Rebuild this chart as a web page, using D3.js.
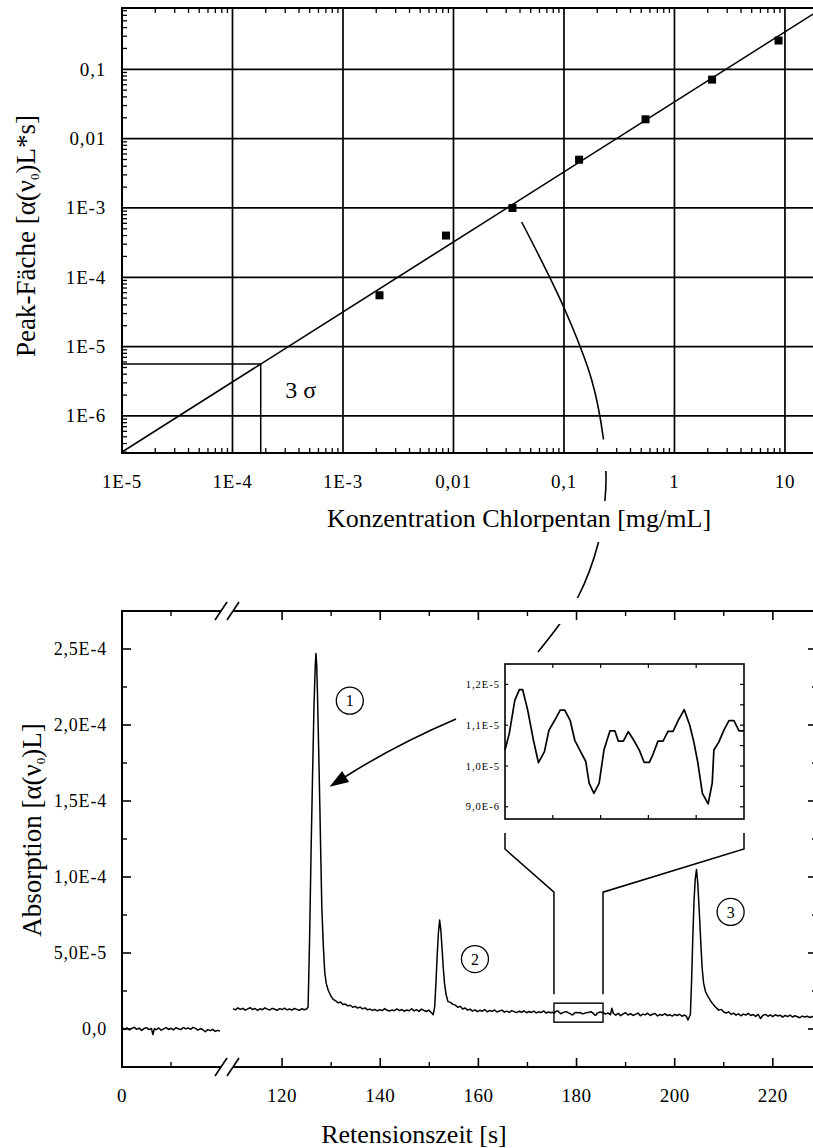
<!DOCTYPE html>
<html>
<head>
<meta charset="utf-8">
<script src="https://cdn.jsdelivr.net/npm/d3@7"></script>
<style>
  body { margin: 0; background: #fff; }
  svg { display: block; }
  text { font-family: "Liberation Serif", "Times New Roman", serif; fill: #000; }
</style>
</head>
<body>
<svg id="chart" width="813" height="1148"></svg>
<script>
// ---------------- calibration data (log-log) ----------------
const concentrations = [0.00214, 0.00855, 0.0342, 0.137, 0.547, 2.19, 8.75];   // mg/mL
const peakAreas      = [5.5e-5, 4.0e-4, 1.0e-3, 4.97e-3, 1.9e-2, 7.1e-2, 2.6e-1];
const fitCoefficient = 0.0339;   // area = a * c^b
const fitExponent    = 1.01;
const lodArea        = 5.6e-6;   // 3 sigma noise level

const concTickValues = [1e-5, 1e-4, 1e-3, 1e-2, 1e-1, 1, 10];
const concTickLabels = ["1E-5", "1E-4", "1E-3", "0,01", "0,1", "1", "10"];
const areaTickValues = [1e-6, 1e-5, 1e-4, 1e-3, 1e-2, 1e-1];
const areaTickLabels = ["1E-6", "1E-5", "1E-4", "1E-3", "0,01", "0,1"];

// ---------------- chromatogram data (absorption in 1E-6) ----------------
const UNIT = 1e-6;
const blankTrace = [
  [0,1.2],[0.5,-0.3],[1,0.8],[1.5,-0.6],[2,0.4],[2.5,1.1],[3,-0.2],[3.5,0.6],[4,-0.9],[4.5,0.3],
  [5,0.9],[5.5,-0.4],[6,0.3],[6.3,-3.6],[6.6,0.2],[7,-0.5],[7.5,0.7],[8,-0.8],[8.5,0.1],[9,0.9],
  [9.5,-0.3],[10,0.5],[10.5,-0.6],[11,0.8],[11.5,0.2],[12,-0.4],[12.5,1.0],[13,0.1],[13.5,0.7],
  [14,-0.2],[14.5,1.1],[15,0.4],[15.5,-0.7],[16,0.3],[16.5,-0.5],[17,-1.8],[17.5,-0.4],[18,-1.1],
  [18.5,-0.3],[19,-1.6],[19.5,-0.9],[20,-1.4]
];
const sampleTrace = [
  [110,13.4],[110.5,12.6],[111,13.9],[111.5,12.9],[112,13.6],[112.5,12.4],[113,13.2],[113.5,14.1],
  [114,12.8],[114.5,13.5],[115,12.2],[115.5,13.3],[116,12.7],[116.5,13.9],[117,13.1],[117.5,12.5],
  [118,13.6],[118.5,13.0],[119,12.3],[119.5,13.4],[120,12.8],[120.5,13.7],[121,12.6],[121.5,13.2],
  [122,12.4],[122.5,13.5],[123,12.9],[123.5,12.3],[124,13.3],[124.5,12.7],[125,13.1],
  // peak 1
  [125.3,14.5],[125.6,58],[125.9,115],[126.2,165],[126.5,212],[126.75,238],[126.9,247],[127.05,240],
  [127.2,222],[127.45,185],[127.7,146],[127.9,112],[128.1,80],[128.4,55],[128.7,37],[129.0,30],
  [129.4,25.5],[129.9,22],[130.4,19.5],[130.9,18.6],[131.4,17.2],[131.9,17.8],[132.4,16.1],
  [132.9,16.4],[133.4,15.2],[133.9,15.6],[134.4,14.3],[134.9,14.9],[135.4,13.8],[135.9,14.4],
  [136.4,13.2],[136.9,13.9],
  [137.4,12.6],[137.9,13.1],[138.4,12.2],[138.9,12.9],[139.4,11.9],[139.9,12.7],[140.4,12.1],
  [140.9,13.4],[141.4,12.3],[141.9,11.8],[142.4,12.6],[142.9,12.0],[143.4,13.2],[143.9,12.1],
  [144.4,12.8],[144.9,11.7],[145.4,12.5],[145.9,12.0],[146.4,13.3],[146.9,11.9],[147.4,12.7],
  [147.9,11.6],[148.4,13.1],[148.9,12.2],[149.4,11.5],[149.9,12.4],[150.4,10.8],[150.8,9.4],
  // peak 2
  [151.1,14.7],[151.35,30],[151.6,48],[151.85,63],[152.1,71.7],[152.35,65],[152.6,53],[152.85,40],
  [153.1,30],[153.4,23],[153.8,18],[154.3,17.5],[154.8,16.2],[155.3,15.7],[155.8,14.3],[156.3,14.9],
  [156.8,13.2],[157.3,13.8],
  [157.8,12.4],[158.3,13.1],[158.8,11.8],[159.3,12.6],[159.8,11.4],[160.3,12.3],[160.8,11.7],
  [161.3,12.8],[161.8,11.3],[162.3,12.2],[162.8,11.6],[163.3,12.5],[163.8,11.2],[164.3,11.9],
  [164.8,12.4],[165.3,11.1],[165.8,11.8],[166.3,10.9],[166.8,12.1],[167.3,11.4],[167.8,10.8],
  [168.3,11.7],[168.8,11.0],[169.3,12.0],[169.8,10.7],[170.3,11.5],[170.8,10.9],[171.3,11.8],
  [171.8,10.6],[172.3,11.3],[172.8,10.8],[173.3,11.9],[173.8,10.5],[174.3,11.2],[174.8,10.7],
  [175.1,11.0],
  // detail window (shown enlarged in the inset)
  [175.40,10.39],[175.58,10.80],[175.81,11.61],[176.00,11.87],[176.14,11.87],[176.35,11.37],
  [176.59,10.63],[176.80,10.08],[177.05,10.35],[177.24,10.88],[177.48,11.12],[177.71,11.37],
  [177.90,11.37],[178.13,11.11],[178.32,10.63],[178.53,10.39],[178.78,10.11],[178.92,9.58],
  [179.12,9.33],[179.34,9.58],[179.54,10.39],[179.79,10.86],[180.00,10.86],[180.14,10.61],
  [180.35,10.61],[180.56,10.84],[180.77,10.65],[181.02,10.39],[181.22,10.09],[181.44,10.09],
  [181.61,10.31],[181.80,10.61],[182.01,10.61],[182.22,10.85],[182.43,10.85],[182.65,11.12],
  [182.90,11.38],[183.13,11.00],[183.30,10.59],[183.46,10.11],[183.66,9.33],[183.90,9.07],
  [184.07,9.58],[184.14,10.39],[184.35,10.59],[184.56,10.88],[184.77,11.11],[184.98,11.11],
  [185.19,10.86],[185.40,10.86],
  [185.9,9.8],[186.4,10.6],[186.9,9.4],[187.2,13.6],[187.5,10.2],[188.0,9.1],[188.5,10.3],
  [189.0,8.8],[189.5,9.9],[190.0,10.7],[190.5,9.2],[191.0,10.1],[191.5,8.9],[192.0,9.6],
  [192.5,10.5],[193.0,8.7],[193.5,9.8],[194.0,9.3],[194.5,10.4],[195.0,8.9],[195.5,9.7],
  [196.0,10.2],[196.5,8.6],[197.0,9.5],[197.5,9.0],[198.0,10.1],[198.5,8.8],[199.0,9.4],
  [199.5,8.5],[200.0,9.6],[200.5,8.9],[201.0,9.7],[201.5,8.4],[202.0,9.2],[202.4,8.3],[202.7,5.9],
  // peak 3
  [203.2,9.5],[203.45,32],[203.7,61],[203.95,85],[204.2,99],[204.45,105],[204.7,96],[204.9,84],
  [205.1,71.7],[205.35,55],[205.6,40],[205.9,30],[206.3,24.5],[206.8,21.3],[207.3,18.6],
  [207.8,16.4],[208.2,14.8],[208.6,13.6],[209.0,12.4],[209.5,12.9],[210.0,11.2],[210.5,10.5],
  [211,11.3],[211.5,9.6],[212,10.4],[212.5,9.1],[213,10.0],[213.5,8.7],[214,9.8],[214.5,9.2],
  [215,10.3],[215.5,8.9],[216,9.5],[216.5,8.3],[217,9.7],[217.5,6.9],[218,9.0],[218.5,9.6],
  [219,8.4],[219.5,9.3],[220,8.1],[220.5,9.4],[221,8.6],[221.5,9.1],[222,7.8],[222.5,8.9],
  [223,8.2],[223.5,9.2],[224,7.9],[224.5,8.7],[225,8.1],[225.5,7.4],[226,8.5],[226.5,7.9],
  [227,8.4],[227.5,7.6],[228,8.2],[228.5,7.8],[229,8.0]
];
const peakNumbers = [
  { label: "1", t: 133.8, v: 216 },
  { label: "2", t: 159.3, v: 46 },
  { label: "3", t: 211.4, v: 77 }
];
const timeMajorTicks   = [0, 120, 140, 160, 180, 200, 220];
const timeMinorTicks   = [10, 130, 150, 170, 190, 210];
const absTickValues    = [0, 5e-5, 1e-4, 1.5e-4, 2e-4, 2.5e-4];
const absTickLabels    = ["0,0", "5,0E-5", "1,0E-4", "1,5E-4", "2,0E-4", "2,5E-4"];
const absMinorTicks    = [2.5e-5, 7.5e-5, 1.25e-4, 1.75e-4, 2.25e-4];
const detailWindow     = [175.4, 185.4];          // s
const detailBoxRange   = [4.5, 17];               // 1E-6
const insetTickValues  = [9e-6, 1e-5, 1.1e-5, 1.2e-5];
const insetTickLabels  = ["9,0E-6", "1,0E-5", "1,1E-5", "1,2E-5"];

const svg = d3.select("#chart");
svg.append("rect").attr("width", 813).attr("height", 1148).attr("fill", "#fff");

// =============== calibration plot ===============
const T = { left: 122, right: 815, top: 8, bottom: 453 };
const xT = d3.scaleLog().domain([1e-5, 18.7]).range([T.left, T.right]);
const yT = d3.scaleLog().domain([2.92e-7, 0.766]).range([T.bottom, T.top]);

svg.append("clipPath").attr("id", "clipTop")
  .append("rect").attr("x", T.left).attr("y", T.top)
  .attr("width", T.right - T.left).attr("height", T.bottom - T.top);

const gTop = svg.append("g");

// grid
gTop.append("g").selectAll("line").data(concTickValues.slice(1)).join("line")
  .attr("x1", d => xT(d)).attr("x2", d => xT(d))
  .attr("y1", T.top).attr("y2", T.bottom)
  .attr("stroke", "#000").attr("stroke-width", 1.7);
gTop.append("g").selectAll("line").data(areaTickValues).join("line")
  .attr("x1", T.left).attr("x2", T.right)
  .attr("y1", d => yT(d)).attr("y2", d => yT(d))
  .attr("stroke", "#000").attr("stroke-width", 1.7);

// minor ticks
const isDecade = v => Math.abs(Math.log10(v) - Math.round(Math.log10(v))) < 1e-9;
const xMinor = xT.ticks().filter(v => !isDecade(v));
const yMinor = yT.ticks().filter(v => !isDecade(v));
gTop.append("g").selectAll("line").data(xMinor).join("line")
  .attr("x1", d => xT(d)).attr("x2", d => xT(d))
  .attr("y1", T.top).attr("y2", T.top + 5)
  .attr("stroke", "#000").attr("stroke-width", 1.3);
gTop.append("g").selectAll("line").data(xMinor).join("line")
  .attr("x1", d => xT(d)).attr("x2", d => xT(d))
  .attr("y1", T.bottom).attr("y2", T.bottom - 5)
  .attr("stroke", "#000").attr("stroke-width", 1.3);
gTop.append("g").selectAll("line").data(yMinor).join("line")
  .attr("x1", T.left).attr("x2", T.left + 5)
  .attr("y1", d => yT(d)).attr("y2", d => yT(d))
  .attr("stroke", "#000").attr("stroke-width", 1.3);

// frame
gTop.append("path")
  .attr("d", `M${T.right},${T.top}H${T.left}V${T.bottom}H${T.right}`)
  .attr("fill", "none").attr("stroke", "#000").attr("stroke-width", 2);

// tick labels
gTop.append("g").selectAll("text").data(concTickValues).join("text")
  .attr("x", d => xT(d)).attr("y", T.bottom + 35)
  .attr("text-anchor", "middle").attr("font-size", 19).attr("letter-spacing", 0.8)
  .text((d, i) => concTickLabels[i]);
gTop.append("g").selectAll("text").data(areaTickValues).join("text")
  .attr("x", T.left - 16).attr("y", d => yT(d)).attr("dy", "0.34em")
  .attr("text-anchor", "end").attr("font-size", 19).attr("letter-spacing", 0.8)
  .text((d, i) => areaTickLabels[i]);

// fit line and data
const fit = c => fitCoefficient * Math.pow(c, fitExponent);
const lodConc = Math.pow(lodArea / fitCoefficient, 1 / fitExponent);
gTop.append("path")
  .datum(xT.domain())
  .attr("clip-path", "url(#clipTop)")
  .attr("d", d3.line().x(c => xT(c)).y(c => yT(fit(c))))
  .attr("fill", "none").attr("stroke", "#000").attr("stroke-width", 1.6);

// detection limit construction
gTop.append("path")
  .attr("d", `M${T.left},${yT(lodArea)}H${xT(lodConc)}V${T.bottom}`)
  .attr("fill", "none").attr("stroke", "#000").attr("stroke-width", 1.5);
gTop.append("text")
  .attr("x", xT(lodConc) + 40).attr("y", yT(lodArea) + 34)
  .attr("text-anchor", "middle").attr("font-size", 24)
  .text("3 σ");

gTop.append("g").selectAll("rect").data(concentrations).join("rect")
  .attr("x", d => xT(d) - 4).attr("y", (d, i) => yT(peakAreas[i]) - 4)
  .attr("width", 8).attr("height", 8).attr("fill", "#000");

// axis titles
const yTitleTop = gTop.append("text")
  .attr("transform", "translate(35,236) rotate(-90)")
  .attr("text-anchor", "middle").attr("font-size", 27);
yTitleTop.append("tspan").text("Peak-Fäche [α(ν");
yTitleTop.append("tspan").attr("font-size", 13).attr("dy", 4).text("0");
yTitleTop.append("tspan").attr("dy", -4).text(")L*s]");

gTop.append("text")
  .attr("x", 519).attr("y", 527)
  .attr("text-anchor", "middle").attr("font-size", 26)
  .text("Konzentration Chlorpentan [mg/mL]");

// =============== chromatogram ===============
const B = { left: 122, right: 817, top: 611, bottom: 1067, breakL: 221, breakR: 233 };
const xB = d3.scaleLinear().domain([0, 20.2, 110, 229]).range([B.left, B.breakL, B.breakR, B.right]);
const yB = d3.scaleLinear().domain([-2.5e-5, 2.75e-4]).range([B.bottom, B.top]);

const gBot = svg.append("g");

// frame with axis break
gBot.append("path")
  .attr("d", `M${B.breakL},${B.top}H${B.left}V${B.bottom}H${B.breakL}` +
             `M${B.breakR},${B.top}H${B.right}V${B.bottom}H${B.breakR}`)
  .attr("fill", "none").attr("stroke", "#000").attr("stroke-width", 2);
[B.top, B.bottom].forEach(y => {
  [B.breakL - 6, B.breakR - 6].forEach(x0 => {
    gBot.append("line")
      .attr("x1", x0).attr("y1", y + 9).attr("x2", x0 + 12).attr("y2", y - 9)
      .attr("stroke", "#000").attr("stroke-width", 1.6);
  });
});

// x ticks (top and bottom, inward)
[[B.bottom, -1], [B.top, 1]].forEach(([y, dir]) => {
  gBot.append("g").selectAll("line").data(timeMajorTicks.filter(t => t > 0)).join("line")
    .attr("x1", d => xB(d)).attr("x2", d => xB(d))
    .attr("y1", y).attr("y2", y + dir * 9)
    .attr("stroke", "#000").attr("stroke-width", 1.6);
  gBot.append("g").selectAll("line").data(timeMinorTicks).join("line")
    .attr("x1", d => xB(d)).attr("x2", d => xB(d))
    .attr("y1", y).attr("y2", y + dir * 5)
    .attr("stroke", "#000").attr("stroke-width", 1.4);
});
gBot.append("g").selectAll("text").data(timeMajorTicks).join("text")
  .attr("x", d => xB(d)).attr("y", 1102)
  .attr("text-anchor", "middle").attr("font-size", 19).attr("letter-spacing", 0.5)
  .text(d => d);

// y ticks (left and right, inward)
[[B.left, 1], [B.right, -1]].forEach(([x, dir]) => {
  gBot.append("g").selectAll("line").data(absTickValues).join("line")
    .attr("x1", x).attr("x2", x + dir * 9)
    .attr("y1", d => yB(d)).attr("y2", d => yB(d))
    .attr("stroke", "#000").attr("stroke-width", 1.6);
  gBot.append("g").selectAll("line").data(absMinorTicks).join("line")
    .attr("x1", x).attr("x2", x + dir * 5)
    .attr("y1", d => yB(d)).attr("y2", d => yB(d))
    .attr("stroke", "#000").attr("stroke-width", 1.4);
});
gBot.append("g").selectAll("text").data(absTickValues).join("text")
  .attr("x", B.left - 15).attr("y", d => yB(d)).attr("dy", "0.34em")
  .attr("text-anchor", "end").attr("font-size", 18).attr("letter-spacing", 0.8)
  .text((d, i) => absTickLabels[i]);

// traces
const traceLine = d3.line().x(d => xB(d[0])).y(d => yB(d[1] * UNIT));
gBot.append("path").datum(blankTrace).attr("d", traceLine)
  .attr("fill", "none").attr("stroke", "#000").attr("stroke-width", 1.5).attr("stroke-linejoin", "round");
gBot.append("path").datum(sampleTrace).attr("d", traceLine)
  .attr("fill", "none").attr("stroke", "#000").attr("stroke-width", 1.5).attr("stroke-linejoin", "round");

// numbered peaks
const peakLbl = gBot.append("g").selectAll("g").data(peakNumbers).join("g")
  .attr("transform", d => `translate(${xB(d.t)},${yB(d.v * UNIT)})`);
peakLbl.append("circle").attr("r", 13.5).attr("fill", "none").attr("stroke", "#000").attr("stroke-width", 1.3);
peakLbl.append("text").attr("text-anchor", "middle").attr("dy", "0.35em").attr("font-size", 16)
  .text(d => d.label);

// detail window box
const boxX0 = xB(detailWindow[0]), boxX1 = xB(detailWindow[1]);
const boxY0 = yB(detailBoxRange[1] * UNIT), boxY1 = yB(detailBoxRange[0] * UNIT);
gBot.append("rect")
  .attr("x", boxX0).attr("y", boxY0).attr("width", boxX1 - boxX0).attr("height", boxY1 - boxY0)
  .attr("fill", "none").attr("stroke", "#000").attr("stroke-width", 1.4);

// axis titles
const yTitleBot = gBot.append("text")
  .attr("transform", "translate(41,830) rotate(-90)")
  .attr("text-anchor", "middle").attr("font-size", 27);
yTitleBot.append("tspan").text("Absorption [α(ν");
yTitleBot.append("tspan").attr("font-size", 13).attr("dy", 4).text("0");
yTitleBot.append("tspan").attr("dy", -4).text(")L]");

gBot.append("text")
  .attr("x", 414).attr("y", 1143)
  .attr("text-anchor", "middle").attr("font-size", 26)
  .text("Retensionszeit [s]");

// =============== inset: enlarged detail window ===============
const I = { left: 505, right: 744, top: 664, bottom: 819 };
const xI = d3.scaleLinear().domain(detailWindow).range([I.left, I.right]);
const yI = d3.scaleLinear().domain([8.7e-6, 1.25e-5]).range([I.bottom, I.top]);
const gIn = svg.append("g");
gIn.append("rect").attr("x", I.left).attr("y", I.top)
  .attr("width", I.right - I.left).attr("height", I.bottom - I.top)
  .attr("fill", "#fff").attr("stroke", "#000").attr("stroke-width", 1.6);

const insetXTicks = d3.range(1, 5).map(i => detailWindow[0] + i * (detailWindow[1] - detailWindow[0]) / 5);
[[I.top, 1], [I.bottom, -1]].forEach(([y, dir]) => {
  gIn.append("g").selectAll("line").data(insetXTicks).join("line")
    .attr("x1", d => xI(d)).attr("x2", d => xI(d))
    .attr("y1", y).attr("y2", y + dir * 4)
    .attr("stroke", "#000").attr("stroke-width", 1.2);
});
gIn.append("g").selectAll("line").data(insetTickValues).join("line")
  .attr("x1", I.left).attr("x2", I.left + 3)
  .attr("y1", d => yI(d)).attr("y2", d => yI(d))
  .attr("stroke", "#000").attr("stroke-width", 1.2);
gIn.append("g").selectAll("line").data(d3.range(9, 12.01, 0.5).map(v => v * UNIT)).join("line")
  .attr("x1", I.right).attr("x2", I.right - 4)
  .attr("y1", d => yI(d)).attr("y2", d => yI(d))
  .attr("stroke", "#000").attr("stroke-width", 1.2);
gIn.append("g").selectAll("text").data(insetTickValues).join("text")
  .attr("x", I.left - 5).attr("y", d => yI(d)).attr("dy", "0.34em")
  .attr("text-anchor", "end").attr("font-size", 10.5).attr("letter-spacing", 1)
  .text((d, i) => insetTickLabels[i]);

const detail = sampleTrace.filter(d => d[0] >= detailWindow[0] - 1e-9 && d[0] <= detailWindow[1] + 1e-9);
gIn.append("path").datum(detail)
  .attr("d", d3.line().x(d => xI(d[0])).y(d => yI(d[1] * UNIT)))
  .attr("fill", "none").attr("stroke", "#000").attr("stroke-width", 1.7).attr("stroke-linejoin", "round");

// funnel connecting the detail box to the inset
const funnel = (xBox, xIn) =>
  `M${xIn},${I.bottom + 14}V${I.bottom + 30}L${xBox},${boxY0 - 111}V${boxY0 - 9}`;
[[boxX0, I.left], [boxX1, I.right]].forEach(([xb, xi]) => {
  gIn.append("path").attr("d", funnel(xb, xi))
    .attr("fill", "none").attr("stroke", "#000").attr("stroke-width", 1.5);
});

// arrow from the inset to peak 1
const arrowStart = [456, 719], arrowCtrl = [395, 745], arrowBase = [344, 777.5];
gIn.append("path")
  .attr("d", `M${arrowStart}Q${arrowCtrl} ${arrowBase}`)
  .attr("fill", "none").attr("stroke", "#000").attr("stroke-width", 1.6);
{
  const dx = arrowBase[0] - arrowCtrl[0], dy = arrowBase[1] - arrowCtrl[1];
  const len = Math.hypot(dx, dy), ux = dx / len, uy = dy / len;
  const headLen = 19, halfW = 6.5;
  const tip = [arrowBase[0] + ux * headLen * 0.9, arrowBase[1] + uy * headLen * 0.9];
  const b = [tip[0] - ux * headLen, tip[1] - uy * headLen];
  gIn.append("path")
    .attr("d", `M${tip}L${b[0] - uy * halfW},${b[1] + ux * halfW}L${b[0] + uy * halfW},${b[1] - ux * halfW}Z`)
    .attr("fill", "#000");
}

// long connector from the calibration point to the inset, interrupted at labels
const connectorPts = [[521.7,222],[565,310],[591.7,380],[603.3,438],[606,475],[605,500],
                      [598.3,543],[578,597],[559,625],[538,652]];
const mask = svg.append("mask").attr("id", "connMask");
mask.append("rect").attr("width", 813).attr("height", 1148).attr("fill", "#fff");
[[439.5, 471], [501, 542], [598, 624]].forEach(([a, b]) =>
  mask.append("rect").attr("x", 0).attr("y", a).attr("width", 813).attr("height", b - a).attr("fill", "#000"));
svg.append("path")
  .attr("d", d3.line().curve(d3.curveCatmullRom)(connectorPts))
  .attr("mask", "url(#connMask)")
  .attr("fill", "none").attr("stroke", "#000").attr("stroke-width", 1.6);
</script>
</body>
</html>
